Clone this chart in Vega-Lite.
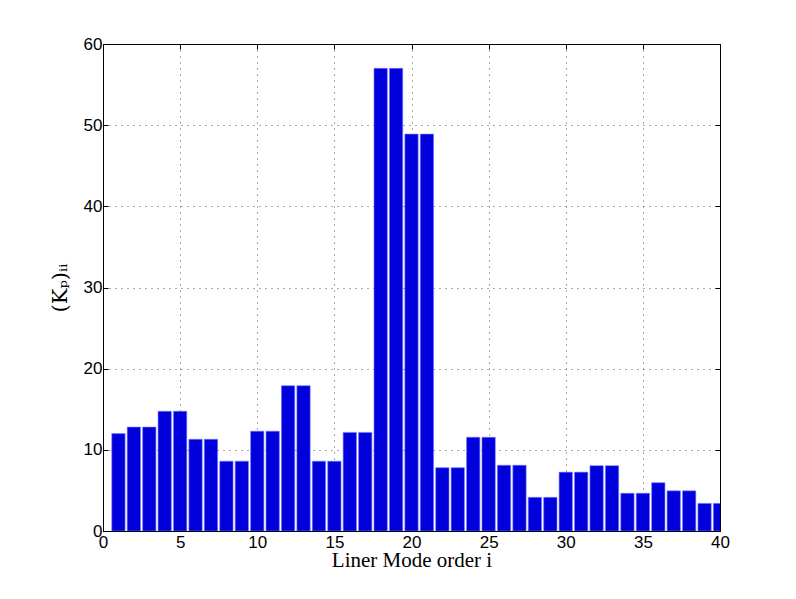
{
  "$schema": "https://vega.github.io/schema/vega-lite/v6.json",
  "width": 617,
  "height": 487,
  "padding": {"left": 103, "top": 44, "right": 76, "bottom": 68},
  "autosize": "none",
  "background": "white",
  "config": {
    "view": {"stroke": "black", "strokeWidth": 1},
    "axis": {
      "labelFont": "Liberation Sans",
      "labelFontSize": 17,
      "labelColor": "black",
      "domainColor": "black",
      "tickColor": "black",
      "tickSize": -5,
      "gridColor": "#555555",
      "gridDash": [1, 5],
      "gridOpacity": 1
    }
  },
  "data": {
    "values": [
      {"i": 1, "k": 12.0}, {"i": 2, "k": 12.8}, {"i": 3, "k": 12.8}, {"i": 4, "k": 14.75},
      {"i": 5, "k": 14.75}, {"i": 6, "k": 11.3}, {"i": 7, "k": 11.3}, {"i": 8, "k": 8.6},
      {"i": 9, "k": 8.6}, {"i": 10, "k": 12.3}, {"i": 11, "k": 12.3}, {"i": 12, "k": 17.9},
      {"i": 13, "k": 17.9}, {"i": 14, "k": 8.6}, {"i": 15, "k": 8.6}, {"i": 16, "k": 12.15},
      {"i": 17, "k": 12.15}, {"i": 18, "k": 57.0}, {"i": 19, "k": 57.0}, {"i": 20, "k": 48.9},
      {"i": 21, "k": 48.9}, {"i": 22, "k": 7.8}, {"i": 23, "k": 7.8}, {"i": 24, "k": 11.55},
      {"i": 25, "k": 11.55}, {"i": 26, "k": 8.1}, {"i": 27, "k": 8.1}, {"i": 28, "k": 4.15},
      {"i": 29, "k": 4.15}, {"i": 30, "k": 7.25}, {"i": 31, "k": 7.25}, {"i": 32, "k": 8.05},
      {"i": 33, "k": 8.05}, {"i": 34, "k": 4.65}, {"i": 35, "k": 4.65}, {"i": 36, "k": 5.95},
      {"i": 37, "k": 4.95}, {"i": 38, "k": 4.95}, {"i": 39, "k": 3.4}, {"i": 40, "k": 3.4}
    ]
  },
  "resolve": {"axis": {"x": "independent", "y": "independent"}},
  "layer": [
    {
      "mark": {"type": "bar", "size": 13.3, "color": "#0000dd", "stroke": "#7777ff", "strokeWidth": 0.6, "clip": true},
      "encoding": {
        "x": {
          "field": "i", "type": "quantitative",
          "scale": {"domain": [0, 40], "nice": false, "zero": false, "padding": 0},
          "axis": {
            "values": [0, 5, 10, 15, 20, 25, 30, 35, 40],
            "grid": true,
            "title": "Liner Mode order i",
            "titleFont": "Liberation Serif",
            "titleFontSize": 21,
            "titleFontWeight": "normal",
            "titleColor": "black",
            "titlePadding": -1,
            "labelPadding": 8,
            "labelFlush": false
          }
        },
        "y": {
          "field": "k", "type": "quantitative",
          "scale": {"domain": [0, 60], "nice": false, "padding": 0},
          "axis": {
            "values": [0, 10, 20, 30, 40, 50, 60],
            "grid": true,
            "title": "(Kₚ)ᵢᵢ",
            "titleFont": "DejaVu Serif",
            "titleFontSize": 21,
            "titleFontWeight": "normal",
            "titleColor": "black",
            "titlePadding": 13,
            "labelPadding": 6
          }
        }
      }
    },
    {
      "mark": {"type": "rule", "opacity": 0},
      "encoding": {
        "x": {
          "field": "i", "type": "quantitative",
          "scale": {"domain": [0, 40], "nice": false, "zero": false, "padding": 0},
          "axis": {"orient": "top", "values": [0, 5, 10, 15, 20, 25, 30, 35, 40], "labels": false, "title": null, "grid": false}
        },
        "y": {
          "field": "k", "type": "quantitative",
          "scale": {"domain": [0, 60], "nice": false, "padding": 0},
          "axis": {"orient": "right", "values": [0, 10, 20, 30, 40, 50, 60], "labels": false, "title": null, "grid": false}
        }
      }
    }
  ]
}
